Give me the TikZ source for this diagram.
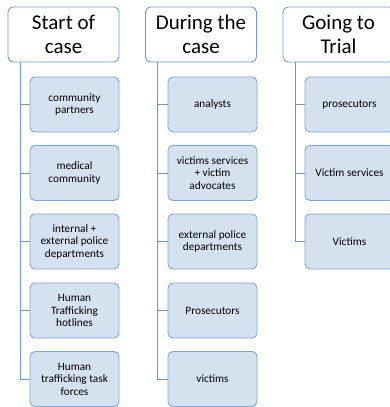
\documentclass[tikz,border=0pt]{standalone}
\usepackage{fontspec}
\setmainfont{Carlito}
\definecolor{hdrborder}{HTML}{6E9BD0}
\definecolor{boxfill}{HTML}{D6E1F0}
\definecolor{boxborder}{HTML}{7EA6D8}
\definecolor{linkc}{HTML}{6A96C8}
\begin{document}
\begin{tikzpicture}[x=1pt,y=-1pt,
  hdr/.style={draw=hdrborder, fill=white, rounded corners=5pt, line width=0.9pt,
    minimum width=111pt, minimum height=55pt, inner sep=0pt, align=center,
    font=\fontsize{21}{24}\selectfont},
  child/.style={draw=boxborder, fill=boxfill, rounded corners=5pt, line width=0.9pt,
    minimum width=89pt, minimum height=55pt, inner sep=0pt, align=center,
    font=\fontsize{11.3}{12.5}\selectfont},
  link/.style={draw=linkc, line width=1pt}]
\useasboundingbox (0,0) rectangle (390,407);
\clip (0,0) rectangle (390,407);
\fill[white] (0,0) rectangle (390,407);
% vertical line coordinates
\coordinate (v1) at (20,0);
\coordinate (v2) at (157,0);
\coordinate (v3) at (295,0);
% headers
\node[hdr] (h1) at (63.5,34.5) {Start of\\case};
\node[hdr] (h2) at (201,34.5) {During the\\case};
\node[hdr] (h3) at (338.5,34.5) {Going to\\Trial};
% column 1
\node[child] (a1) at (74.5,104.5) {community\\partners};
\node[child] (a2) at (74.5,173) {medical\\community};
\node[child] (a3) at (74.5,241.5) {internal +\\external police\\departments};
\node[child] (a4) at (74.5,310.5) {Human\\Trafficking\\hotlines};
\node[child] (a5) at (74.5,379) {Human\\trafficking task\\forces};
% column 2
\node[child] (b1) at (212.5,104.5) {analysts};
\node[child] (b2) at (212.5,173) {victims services\\+ victim\\advocates};
\node[child] (b3) at (212.5,241.5) {external police\\departments};
\node[child] (b4) at (212.5,310.5) {Prosecutors};
\node[child] (b5) at (212.5,379) {victims};
% column 3
\node[child] (c1) at (349.5,104.5) {prosecutors};
\node[child] (c2) at (349.5,173) {Victim services};
\node[child] (c3) at (349.5,241.5) {Victims};
% connectors
\foreach \n in {a1,a2,a3,a4,a5} \draw[link] (h1.south -| v1) |- (\n.west);
\foreach \n in {b1,b2,b3,b4,b5} \draw[link] (h2.south -| v2) |- (\n.west);
\foreach \n in {c1,c2,c3} \draw[link] (h3.south -| v3) |- (\n.west);
\end{tikzpicture}
\end{document}
